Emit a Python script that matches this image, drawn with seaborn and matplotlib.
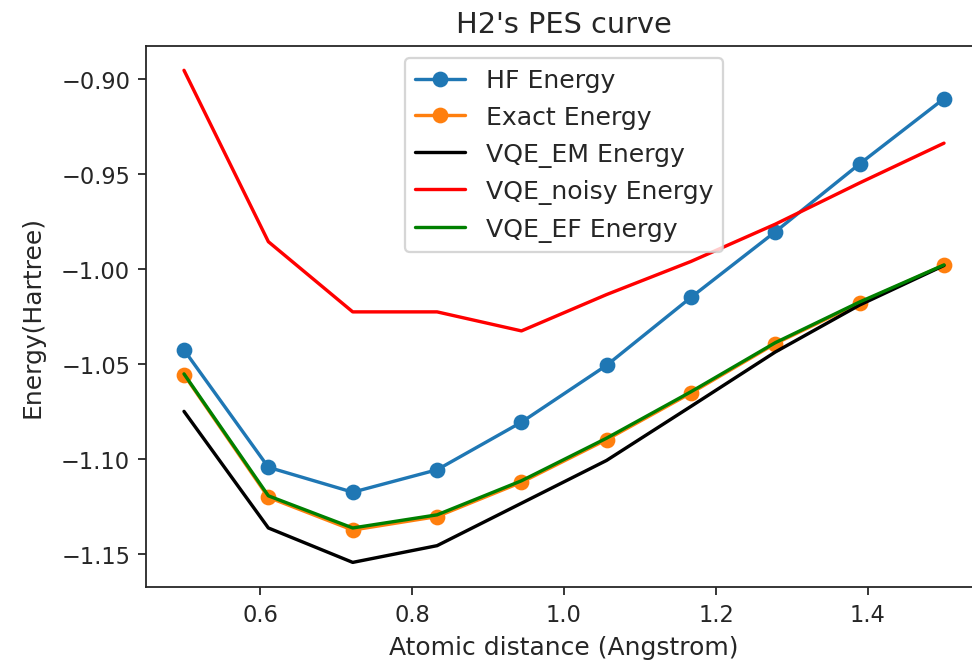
import matplotlib
matplotlib.use("Agg")
import matplotlib.pyplot as plt
import seaborn as sns
import pandas as pd

distance = [0.5, 0.611, 0.722, 0.833, 0.944, 1.056, 1.167, 1.278, 1.389, 1.5]
hf_energy = [-1.0426, -1.1043, -1.1174, -1.1056, -1.0806, -1.0507, -1.0150, -0.9805, -0.9448, -0.9105]
exact_energy = [-1.0556, -1.1201, -1.1373, -1.1302, -1.1122, -1.0898, -1.0653, -1.0393, -1.0179, -0.9980]
vqe_em_energy = [-1.0749, -1.1362, -1.1543, -1.1455, -1.1232, -1.1007, -1.0723, -1.0437, -1.0190, -0.9982]
vqe_noisy_energy = [-0.8956, -0.9857, -1.0226, -1.0226, -1.0326, -1.0135, -0.9961, -0.9765, -0.9548, -0.9339]
vqe_ef_energy = [-1.0552, -1.1193, -1.1362, -1.1293, -1.1114, -1.0890, -1.0646, -1.0388, -1.0174, -0.9979]

series = [
    ("HF Energy", hf_energy, "#1f77b4", "o"),
    ("Exact Energy", exact_energy, "#ff7f0e", "o"),
    ("VQE_EM Energy", vqe_em_energy, "black", None),
    ("VQE_noisy Energy", vqe_noisy_energy, "red", None),
    ("VQE_EF Energy", vqe_ef_energy, "green", None),
]

sns.set_style("ticks")
plt.rcParams["font.family"] = ["DejaVu Sans"]
plt.rcParams["font.size"] = 10

fig = plt.figure(figsize=(973 / 162, 666 / 162), dpi=162)
ax = fig.add_axes([146 / 973, 78 / 666, 836 / 973, 541.3 / 666])

for name, vals, col, mk in series:
    df = pd.DataFrame({"x": distance, "y": vals})
    kw = dict(marker=mk, markersize=6, markeredgecolor=col, markeredgewidth=1) if mk else {}
    sns.lineplot(data=df, x="x", y="y", ax=ax, color=col, label=name,
                 linewidth=1.5, **kw)

ax.set_xticks([0.6, 0.8, 1.0, 1.2, 1.4])
ax.set_yticks([-0.90, -0.95, -1.00, -1.05, -1.10, -1.15])
ax.set_yticklabels(["\u22120.90", "\u22120.95", "\u22121.00", "\u22121.05", "\u22121.10", "\u22121.15"])
ax.set_xlabel("Atomic distance (Angstrom)", fontsize=11.1)
ax.set_ylabel("Energy(Hartree)", fontsize=11.1, labelpad=7.5)
ax.set_title("H2's PES curve", fontsize=12.8)
ax.tick_params(labelsize=10)
ax.spines["right"].set_visible(False)
ax.legend(loc="upper center", fontsize=11.2)

fig.savefig("out.png", dpi=162)
